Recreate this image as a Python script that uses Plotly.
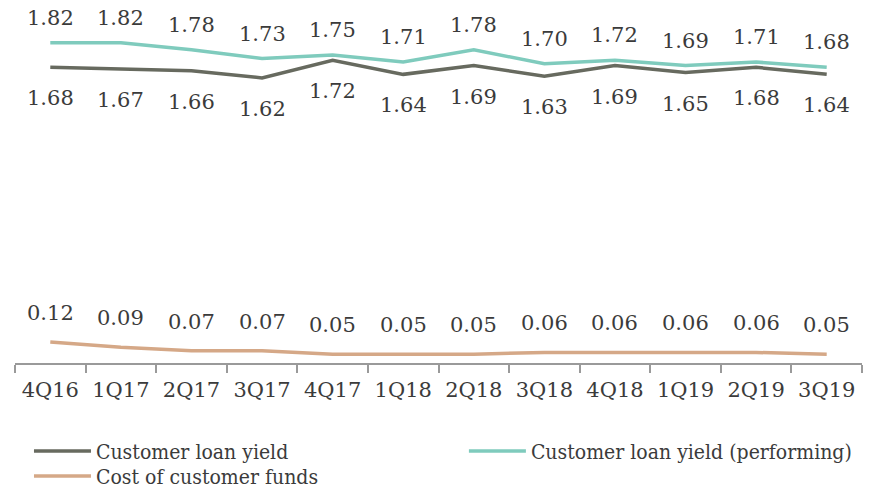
import plotly.graph_objects as go

quarters = ["4Q16", "1Q17", "2Q17", "3Q17", "4Q17", "1Q18", "2Q18", "3Q18", "4Q18", "1Q19", "2Q19", "3Q19"]
loan_yield = [1.68, 1.67, 1.66, 1.62, 1.72, 1.64, 1.69, 1.63, 1.69, 1.65, 1.68, 1.64]
loan_yield_perf = [1.82, 1.82, 1.78, 1.73, 1.75, 1.71, 1.78, 1.70, 1.72, 1.69, 1.71, 1.68]
cost_funds = [0.12, 0.09, 0.07, 0.07, 0.05, 0.05, 0.05, 0.06, 0.06, 0.06, 0.06, 0.05]

C_GRAY = "#676a5f"
C_TEAL = "#7fcbbd"
C_TAN = "#d5a887"
TXT = "#3b3b3b"
FONT = "DejaVu Serif"

fig = go.Figure()
series = [
    ("Customer loan yield", loan_yield, C_GRAY, -31, "legend"),
    ("Customer loan yield (performing)", loan_yield_perf, C_TEAL, 25, "legend2"),
    ("Cost of customer funds", cost_funds, C_TAN, 29, "legend3"),
]
annotations = []
for name, vals, col, shift, lg in series:
    fig.add_trace(go.Scatter(x=quarters, y=vals, name=name, mode="lines", legend=lg,
                             line=dict(color=col, width=3.5), hoverinfo="skip"))
    for q, v in zip(quarters, vals):
        annotations.append(dict(x=q, y=v, text=f"{v:.2f}", showarrow=False,
                                yshift=shift, font=dict(family=FONT, size=21, color=TXT)))

leg_common = dict(xanchor="left", yanchor="top", bgcolor="rgba(0,0,0,0)",
                  font=dict(family="DejaVu Serif Condensed", size=21, color=TXT),
                  itemwidth=57)

fig.update_layout(
    width=875, height=490,
    margin=dict(l=7, r=21, t=3, b=135, autoexpand=False),
    paper_bgcolor="white", plot_bgcolor="white",
    annotations=annotations,
    showlegend=True,
    legend=dict(x=0.0165, y=-0.193, **leg_common),
    legend2=dict(x=0.530, y=-0.193, **leg_common),
    legend3=dict(x=0.0165, y=-0.264, **leg_common),
    xaxis=dict(type="category", range=[-0.5, 11.5], showgrid=False, zeroline=False,
               showline=True, linecolor="#9a9a9a", linewidth=1.5,
               ticks="outside", tickson="boundaries", ticklen=8, tickcolor="#9a9a9a",
               tickwidth=1.5, ticklabelstandoff=7,
               tickfont=dict(family=FONT, size=21, color=TXT)),
    yaxis=dict(range=[0, 2.0], visible=False, showgrid=False, zeroline=False),
)

fig.write_html("out.html")
